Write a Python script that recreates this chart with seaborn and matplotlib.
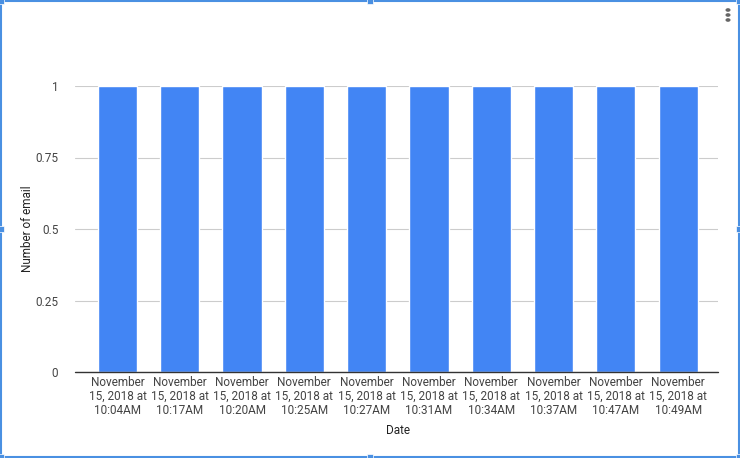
import matplotlib
matplotlib.use("Agg")
import matplotlib.pyplot as plt
import matplotlib.patches as mpatches
import seaborn as sns
import pandas as pd

# === Data ===
dates = ["10:04AM", "10:17AM", "10:20AM", "10:25AM", "10:27AM",
         "10:31AM", "10:34AM", "10:37AM", "10:47AM", "10:49AM"]
counts = [1, 1, 1, 1, 1, 1, 1, 1, 1, 1]
labels = [f"November\n15, 2018 at\n{t}" for t in dates]
y_ticks = [0, 0.25, 0.5, 0.75, 1]
y_tick_labels = ["0", "0.25", "0.5", "0.75", "1"]

df = pd.DataFrame({"Date": labels, "Count": counts})

sns.set_style("white")
plt.rcParams["font.family"] = ["Roboto", "DejaVu Sans"]

W, H = 740, 458
fig = plt.figure(figsize=(W / 100, H / 100), dpi=100)
ax = fig.add_axes([75 / W, 1 - 372 / H, (718 - 75) / W, (372 - 86) / H])

sns.barplot(data=df, x="Date", y="Count", color="#4285F4", saturation=1,
            width=0.63, ax=ax, zorder=3)

ax.set_ylim(0, 1)
ax.set_xlim(-0.682, 9.64)
ax.set_yticks(y_ticks)
ax.set_yticklabels(y_tick_labels)
ax.grid(axis="y", color="#cccccc", linewidth=0.8, zorder=0)
ax.axhline(0, color="#333333", linewidth=1.0, zorder=4, clip_on=False)
for s in ax.spines.values():
    s.set_visible(False)
ax.tick_params(axis="both", length=0, labelsize=8.5, colors="#444444")
ax.tick_params(axis="y", pad=12)
ax.tick_params(axis="x", pad=3)
for t in ax.get_xticklabels():
    t.set_linespacing(1.08)
ax.set_xlabel("")
ax.set_ylabel("")

fig.text(398 / W, 1 - 430 / H, "Date", ha="center", va="center",
         fontsize=8.5, color="#222222")
fig.text(28 / W, 1 - 229 / H, "Number of email", ha="center", va="center",
         rotation=90, fontsize=8.5, color="#222222")

# three-dot menu
for yy in (10, 15, 20):
    fig.patches.append(mpatches.Circle((728 / W, 1 - yy / H), 1.8 / W,
                                       transform=fig.transFigure,
                                       color="#666666"))

# selection frame with handles
fig.patches.append(mpatches.Rectangle((1 / W, 1 / H), (W - 2) / W, (H - 2) / H,
                                      transform=fig.transFigure, fill=False,
                                      edgecolor="#4a90e2", linewidth=1.5))
for hx, hy in [(1, 1), (370, 1), (739, 1), (1, 229), (739, 229),
               (1, 457), (370, 457), (739, 457)]:
    fig.patches.append(mpatches.Rectangle(((hx - 3) / W, 1 - (hy + 3) / H),
                                          6 / W, 6 / H,
                                          transform=fig.transFigure,
                                          facecolor="#4a90e2", edgecolor="white",
                                          linewidth=0.5))

fig.savefig("out.png", dpi=100)
